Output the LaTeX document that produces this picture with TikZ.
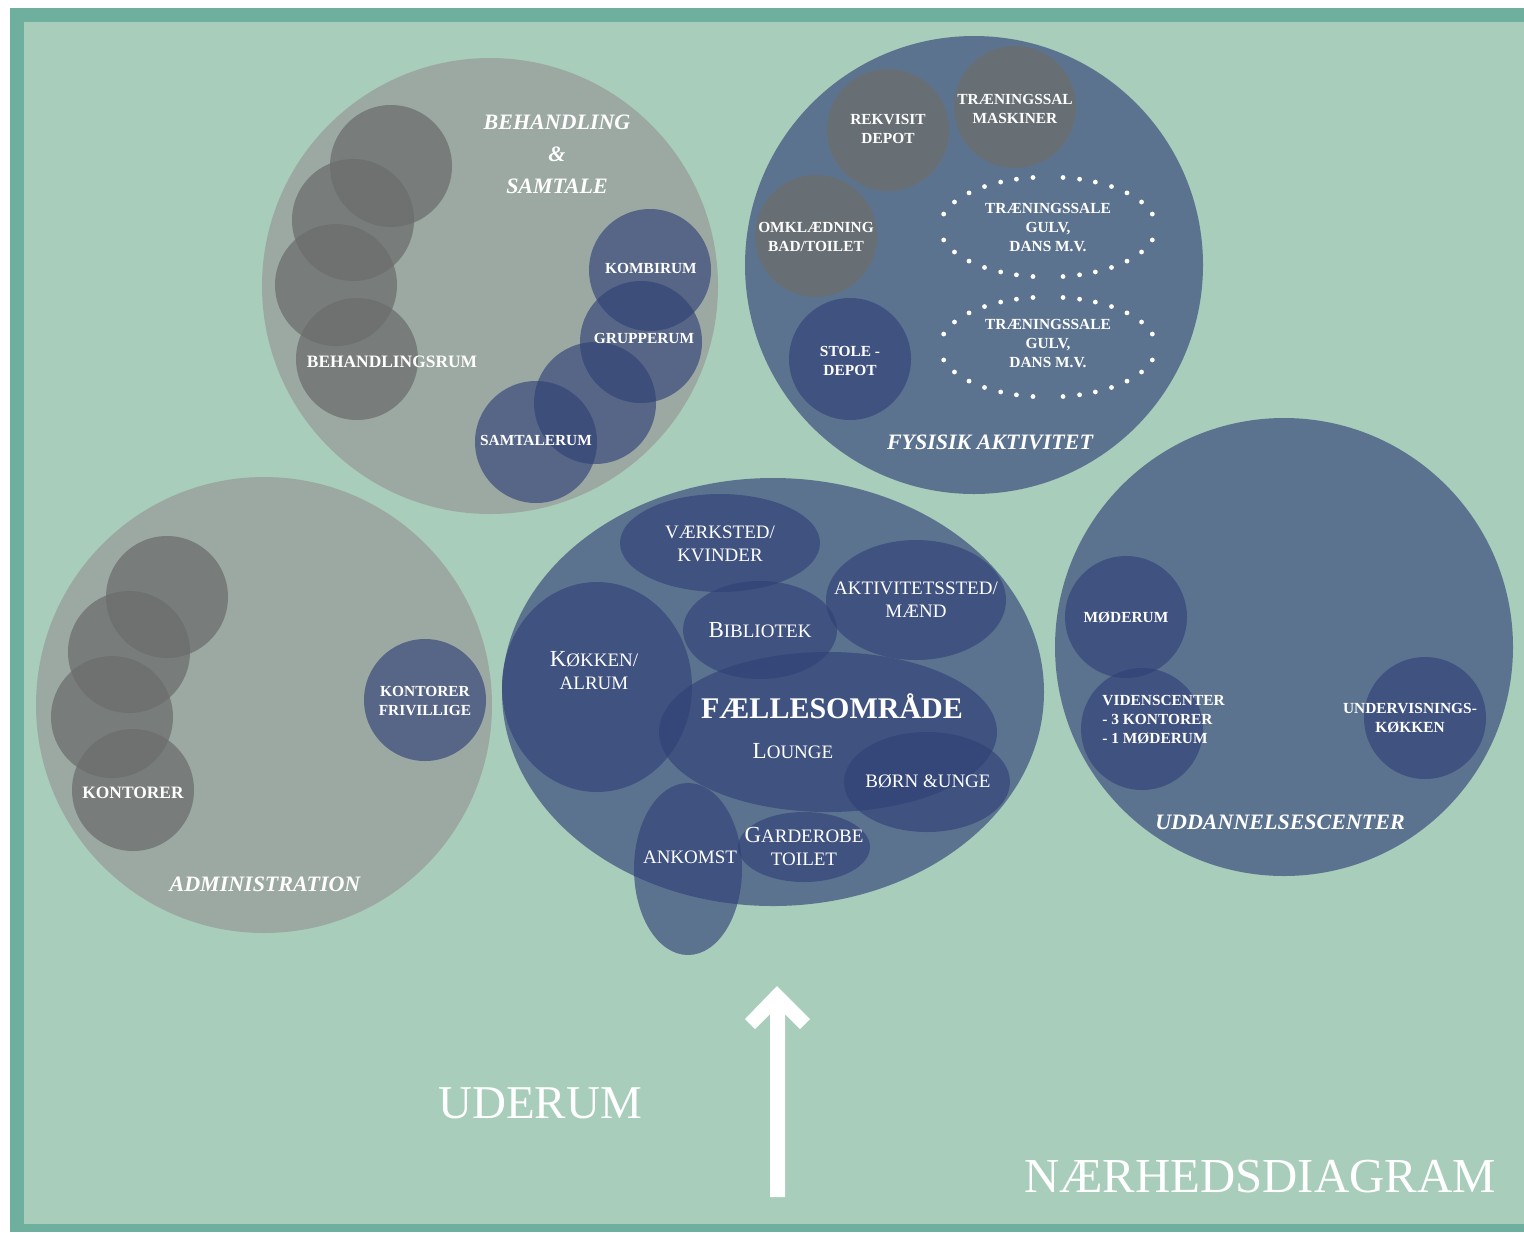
\documentclass[tikz,border=0pt]{standalone}
\usepackage{fontspec}
\setmainfont{Liberation Serif}
\usetikzlibrary{calc}
\definecolor{frameC}{HTML}{6FAF9D}
\definecolor{bgC}{HTML}{A8CDBB}
\definecolor{blueC}{RGB}{48,64,118}
\definecolor{greyC}{RGB}{108,110,109}
\definecolor{bigGreyC}{HTML}{9CA9A3}
\newcommand\myini[1]{{\fontsize{11.5}{11.5}\selectfont #1}}
\begin{document}
\begin{tikzpicture}[x=0.5pt,y=-0.5pt,
  bluefill/.style={fill=blueC,fill opacity=0.63},
  greyfill/.style={fill=greyC,fill opacity=0.75},
  biggrey/.style={fill=bigGreyC},
  lab/.style={text=white,font=\fontsize{7.7}{9.5}\selectfont\bfseries,align=center,inner sep=0pt},
  biglab/.style={lab,font=\fontsize{8.7}{10}\selectfont\bfseries},
  midlab/.style={text=white,font=\fontsize{9.5}{11.5}\selectfont,align=center,inner sep=0pt},
  titlelab/.style={text=white,font=\fontsize{11}{16}\selectfont\bfseries\itshape,align=center,inner sep=0pt},
  hugelab/.style={text=white,font=\fontsize{23.5}{24}\selectfont,inner sep=0pt},
  dotc/.style={fill=white}]
\useasboundingbox (0,0) rectangle (1524,1232);
\fill[white] (0,0) rectangle (1524,1232);
\fill[frameC] (10,8) rectangle (1524,1232);
\fill[bgC] (24,22) rectangle (1524,1224);

% ---------- Behandling & samtale ----------
\fill[biggrey] (490,286) circle[radius=228];
\fill[greyfill] (391,166) circle[radius=61];
\fill[greyfill] (353,220) circle[radius=61];
\fill[greyfill] (336,285) circle[radius=61];
\fill[greyfill] (357,359) circle[radius=61];
\fill[bluefill] (650,270) circle[radius=61];
\fill[bluefill] (641,342) circle[radius=61];
\fill[bluefill] (595,403) circle[radius=61];
\fill[bluefill] (536,442) circle[radius=61];
\node[titlelab] (tbeh) at (557,154) {BEHANDLING\\\&\\SAMTALE};
\node[biglab] (behrum) at (392,362) {BEHANDLINGSRUM};
\node[lab] (kombi) at (651,268) {KOMBIRUM};
\node[lab] (grup) at (644,338) {GRUPPERUM};
\node[lab] (samt) at (536,440) {SAMTALERUM};

% ---------- Fysisk aktivitet ----------
\fill[bluefill] (974,265) circle[radius=229];
\fill[greyfill] (888,130) circle[radius=61];
\fill[greyfill] (1015,107) circle[radius=61];
\fill[greyfill] (816,236) circle[radius=61];
\fill[bluefill] (850,359) circle[radius=61];
\foreach \cy in {227,347}{
  \foreach \a in {15,30,43,54,64,73,82}{
    \fill[dotc] ($(1048,\cy)+(\a:108 and 50)$) circle[radius=2.4];
    \fill[dotc] ($(1048,\cy)+(180-\a:108 and 50)$) circle[radius=2.4];
    \fill[dotc] ($(1048,\cy)+(180+\a:108 and 50)$) circle[radius=2.4];
    \fill[dotc] ($(1048,\cy)+(360-\a:108 and 50)$) circle[radius=2.4];
  }
}
\node[lab] (rekv) at (888,129) {REKVISIT\\DEPOT};
\node[lab] (tmask) at (1015,109) {TRÆNINGSSAL\\MASKINER};
\node[lab] (omkl) at (816,237) {OMKLÆDNING\\BAD/TOILET};
\node[lab] (stole) at (850,361) {STOLE -\\DEPOT};
\node[lab] (sale1) at (1048,228) {TRÆNINGSSALE\\GULV,\\DANS M.V.};
\node[lab] (sale2) at (1048,344) {TRÆNINGSSALE\\GULV,\\DANS M.V.};
\node[titlelab] (tfys) at (990,442) {FYSISIK AKTIVITET};

% ---------- Administration ----------
\fill[biggrey] (264,705) circle[radius=228];
\fill[greyfill] (167,597) circle[radius=61];
\fill[greyfill] (129,652) circle[radius=61];
\fill[greyfill] (112,717) circle[radius=61];
\fill[greyfill] (133,790) circle[radius=61];
\fill[bluefill] (425,700) circle[radius=61];
\node[biglab] (kont) at (133,793) {KONTORER};
\node[lab] (kfriv) at (425,701) {KONTORER\\FRIVILLIGE};
\node[titlelab] (tadm) at (265,884) {ADMINISTRATION};

% ---------- Faellesomraade ----------
\fill[bluefill] (773,692) ellipse[x radius=271,y radius=214];
\fill[bluefill] (720,543) ellipse[x radius=100,y radius=49];
\fill[bluefill] (760,630) ellipse[x radius=77,y radius=49];
\fill[bluefill] (916,600) ellipse[x radius=90,y radius=60];
\fill[bluefill] (597,687) ellipse[x radius=95,y radius=105];
\fill[bluefill] (828,732) ellipse[x radius=169,y radius=80];
\fill[bluefill] (927,782) ellipse[x radius=83,y radius=50];
\fill[bluefill] (688,869) ellipse[x radius=54,y radius=86];
\fill[bluefill] (804,847) ellipse[x radius=66,y radius=35];
\node[midlab] (vaerk) at (720,544) {VÆRKSTED/\\KVINDER};
\node[midlab] (bibl) at (760,630) {\myini{B}IBLIOTEK};
\node[midlab] (aktiv) at (916,600) {AKTIVITETSSTED/\\MÆND};
\node[midlab] (kokken) at (594,671) {\myini{K}ØKKEN/\\ALRUM};
\node[text=white,font=\fontsize{15}{16}\selectfont\bfseries,inner sep=0pt] (faelles) at (832,706) {FÆLLESOMRÅDE};
\node[midlab] (lounge) at (793,751) {\myini{L}OUNGE};
\node[midlab] (born) at (928,781) {BØRN \&UNGE};
\node[midlab] (ankomst) at (690,857) {ANKOMST};
\node[midlab] (garde) at (804,846) {\myini{G}ARDEROBE\\TOILET};

% ---------- Uddannelsescenter ----------
\fill[bluefill] (1284,647) circle[radius=229];
\fill[bluefill] (1126,617) circle[radius=61];
\fill[bluefill] (1142,729) circle[radius=61];
\fill[bluefill] (1425,718) circle[radius=61];
\node[lab] (moder) at (1126,617) {MØDERUM};
\node[lab,align=left,anchor=west] (videns) at (1102,720) {VIDENSCENTER\\- 3 KONTORER\\- 1 MØDERUM};
\node[lab] (underv) at (1410,718) {UNDERVISNINGS-\\KØKKEN};
\node[titlelab] (tudd) at (1280,822) {UDDANNELSESCENTER};

% ---------- Bottom ----------
\fill[white] (777,986) -- (810,1019) -- (800,1029) -- (785,1014) -- (785,1197)
  -- (770,1197) -- (770,1014) -- (755,1029) -- (745,1019) -- cycle;
\node[hugelab] (uderum) at (540,1103) {UDERUM};
\node[hugelab,font=\fontsize{24.4}{25}\selectfont] (naer) at (1260,1177) {NÆRHEDSDIAGRAM};
\end{tikzpicture}
\end{document}
